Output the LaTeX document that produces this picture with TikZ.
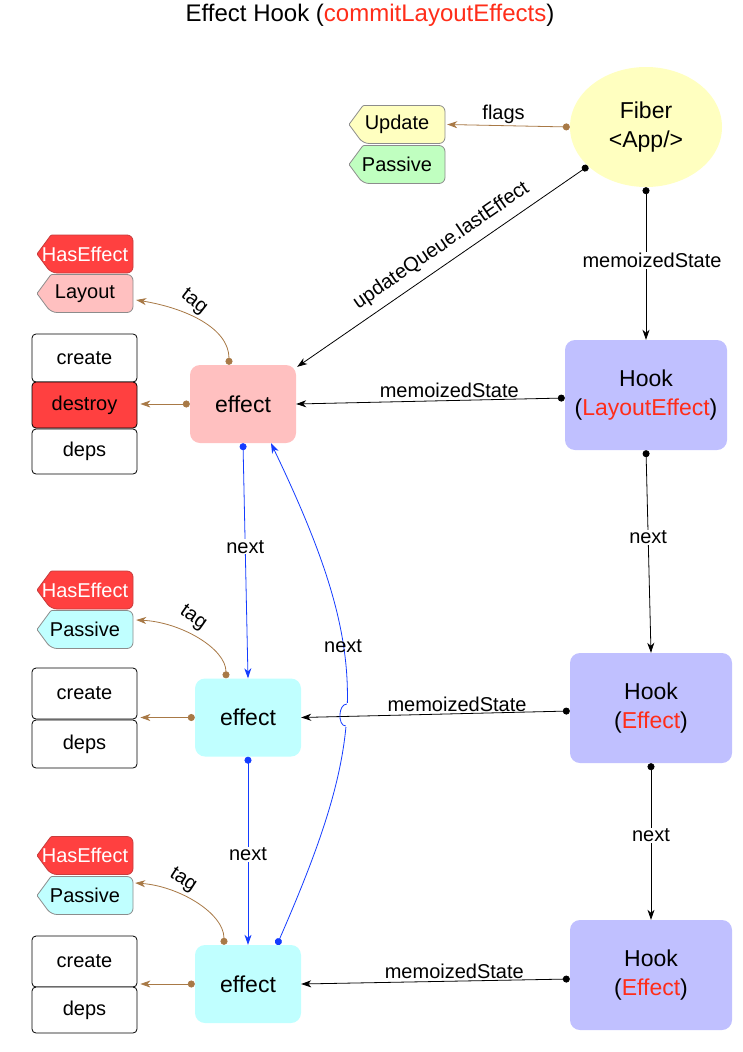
\documentclass[tikz,border=0pt]{standalone}
\usepackage{fontspec}
\setmainfont{Liberation Sans}
\usetikzlibrary{arrows.meta,shapes.geometric}
\definecolor{brn}{RGB}{168,121,70}
\definecolor{blu}{RGB}{20,60,255}
\definecolor{hred}{RGB}{255,45,25}
\definecolor{pinkf}{RGB}{255,192,192}
\definecolor{cyanf}{RGB}{192,255,255}
\definecolor{lavf}{RGB}{192,192,255}
\definecolor{yelf}{RGB}{255,255,192}
\definecolor{grnf}{RGB}{192,255,192}
\definecolor{redf}{RGB}{255,64,64}
\definecolor{tagstroke}{RGB}{140,140,140}
\definecolor{redstroke}{RGB}{200,60,60}
\newcommand\tagshape[4]{%
  \filldraw[fill=#3, draw=#4, line width=0.8pt, rounded corners=6pt]
    ({#1-34},{#2-19}) -- ({#1+48},{#2-19}) -- ({#1+48},{#2+19}) -- ({#1-34},{#2+19})
    [rounded corners=1pt] -- ({#1-48},{#2}) -- cycle;}
\tikzset{
  effbox/.style={rectangle, rounded corners=10pt, minimum width=106pt, minimum height=78pt,
    font=\fontsize{23}{28}\selectfont},
  hookbox/.style={rectangle, rounded corners=10pt, fill=lavf, minimum width=162pt, minimum height=110pt,
    align=center, font=\fontsize{23}{29}\selectfont},
  fld/.style={rectangle, draw, rounded corners=4pt, fill=white, minimum width=105pt, line width=0.8pt,
    font=\fontsize{20}{24}\selectfont},
  tagtxt/.style={rectangle, minimum width=96pt, minimum height=38pt, inner sep=0pt,
    font=\fontsize{20}{24}\selectfont},
  lbl/.style={font=\fontsize{20}{24}\selectfont, fill=white, inner sep=1pt},
  lbln/.style={font=\fontsize{20}{24}\selectfont, inner sep=2pt},
  dotarr/.style={{Circle[length=7pt]}-{Stealth[length=10pt,width=7pt,inset=3pt]}, line width=0.8pt},
}
\begin{document}
\begin{tikzpicture}[x=1pt,y=-1pt]
\useasboundingbox (0,0) rectangle (742,1052);
\fill[white] (0,0) rectangle (742,1052);

% title
\node[font=\fontsize{24}{28}\selectfont] (title) at (370,15) {Effect Hook (\textcolor{hred}{commitLayoutEffects})};

% fiber
\node[ellipse, fill=yelf, minimum width=152pt, minimum height=120pt, align=center,
  font=\fontsize{23}{29}\selectfont] (fiber) at (646,127) {Fiber\\<App/>};

% flag tags
\tagshape{397}{124.5}{yelf}{tagstroke}
\node[tagtxt] (upd) at (397,124.5) {Update};
\tagshape{397}{164.5}{grnf}{tagstroke}
\node[tagtxt] (pas0) at (397,164.5) {Passive};

% effect tags
\tagshape{85}{254}{redf}{redstroke}
\node[tagtxt, text=white] (has1) at (85,254) {HasEffect};
\tagshape{85}{293.5}{pinkf}{tagstroke}
\node[tagtxt] (lay1) at (85,293.5) {Layout};
\tagshape{85}{590}{redf}{redstroke}
\node[tagtxt, text=white] (has2) at (85,590) {HasEffect};
\tagshape{85}{629.5}{cyanf}{tagstroke}
\node[tagtxt] (pas2) at (85,629.5) {Passive};
\tagshape{85}{855.5}{redf}{redstroke}
\node[tagtxt, text=white] (has3) at (85,855.5) {HasEffect};
\tagshape{85}{895.5}{cyanf}{tagstroke}
\node[tagtxt] (pas3) at (85,895.5) {Passive};

% fields
\node[fld, minimum height=48pt] (cr1) at (84.5,358) {create};
\node[fld, minimum height=46pt, fill=redf] (des1) at (84.5,405) {destroy};
\node[fld, minimum height=45pt] (dep1) at (84.5,451.5) {deps};
\node[fld, minimum height=51pt] (cr2) at (84.5,693.5) {create};
\node[fld, minimum height=48pt] (dep2) at (84.5,744) {deps};
\node[fld, minimum height=51pt] (cr3) at (84.5,961.5) {create};
\node[fld, minimum height=46pt] (dep3) at (84.5,1010) {deps};

% effects
\node[effbox, fill=pinkf] (eff1) at (243,404) {effect};
\node[effbox, fill=cyanf] (eff2) at (248,717.5) {effect};
\node[effbox, fill=cyanf] (eff3) at (248,984) {effect};

% hooks
\node[hookbox] (hook1) at (646,395) {Hook\\(\textcolor{hred}{LayoutEffect})};
\node[hookbox] (hook2) at (651,708) {Hook\\(\textcolor{hred}{Effect})};
\node[hookbox] (hook3) at (651,975) {Hook\\(\textcolor{hred}{Effect})};

% fiber connectors
\draw[brn, dotarr] (fiber.west) -- node[lbln, above, pos=0.54, text=black] {flags} ([xshift=2pt]upd.east);
\draw[dotarr] (fiber.south) -- node[lbl, pos=0.48, xshift=6pt] {memoizedState} (hook1.north);
\draw[dotarr] (fiber.214) -- node[lbln, sloped, above=6pt, pos=0.47] {updateQueue.lastEffect} ([xshift=1pt,yshift=-2pt]eff1.north east);

% hook chain
\draw[dotarr] (hook1.south) -- node[lbl, pos=0.43] {next} (hook2.north);
\draw[dotarr] (hook2.south) -- node[lbl, pos=0.46] {next} (hook3.north);

% memoizedState to effects
\draw[dotarr] ([yshift=-3pt]hook1.west) -- node[lbln, above, pos=0.43] {memoizedState} (eff1.east);

% effect chain (blue)
\draw[blu, dotarr] (eff1.south) -- node[lbl, text=black, pos=0.44] {next} (eff2.north);
\draw[blu, dotarr] (eff2.south) -- node[lbl, text=black, pos=0.52] {next} (eff3.north);
\draw[blu, dotarr] ([xshift=29pt]eff3.north) .. controls (369,734) and (373,656) ..
  node[lbln, text=black, pos=0.61] {next} ([xshift=28pt]eff1.south);
% gap for the jump
\fill[white] (341,703) rectangle (353,727);

\draw[dotarr] ([yshift=-3pt]hook2.west) -- node[lbln, above, pos=0.42] {memoizedState} (eff2.east);
\draw[blu, line width=0.8pt] (346.9,704) .. controls (338,704) and (337.5,726) .. (345.8,726);
\draw[dotarr] ([yshift=-4pt]hook3.west) -- node[lbln, above, pos=0.43] {memoizedState} (eff3.east);

% tags of effects
\draw[brn, dotarr] ([xshift=-14pt]eff1.north) .. controls +(0,-37) and +(49,8) .. ([xshift=3pt,yshift=-6.5pt]lay1.east);
\node[lbln, rotate=-38] (t1) at (194,302) {tag};
\draw[brn, dotarr] ([xshift=-22pt]eff2.north) .. controls +(0,-30) and +(44,2) .. ([xshift=3pt,yshift=9.5pt]pas2.east);
\node[lbln, rotate=-35] (t2) at (193,618) {tag};
\draw[brn, dotarr] ([xshift=-24pt]eff3.north) .. controls +(0,-32) and +(43,3) .. ([xshift=2pt,yshift=12.5pt]pas3.east);
\node[lbln, rotate=-33] (t3) at (183,880) {tag};

% effect to fields
\draw[brn, dotarr, shorten >=3pt] (eff1.west) -- (eff1.west -| des1.east);
\draw[brn, dotarr, shorten >=3pt] (eff2.west) -- (eff2.west -| cr2.east);
\draw[brn, dotarr, shorten >=3pt] (eff3.west) -- (eff3.west -| cr3.east);
\end{tikzpicture}
\end{document}
